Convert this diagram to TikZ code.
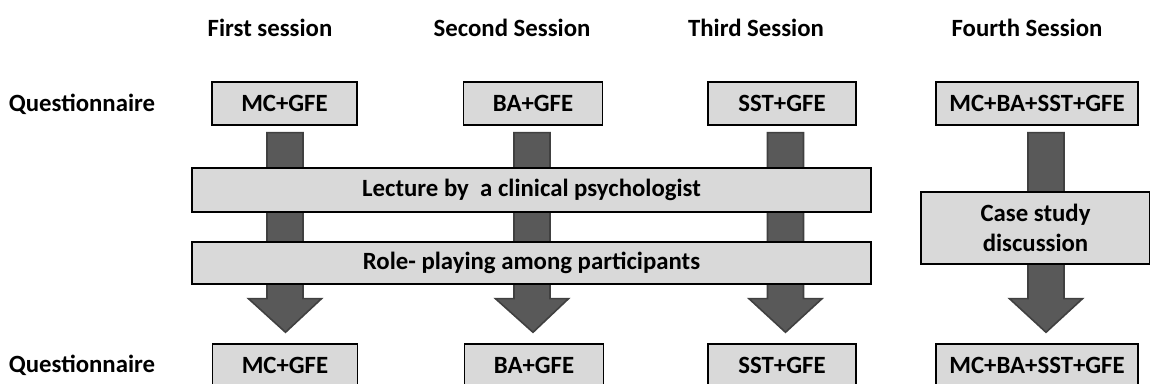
\documentclass[tikz,border=0pt]{standalone}
\usepackage{fontspec}
\setmainfont{Carlito}
\usetikzlibrary{calc}
\definecolor{boxgray}{HTML}{D9D9D9}
\definecolor{arrowgray}{HTML}{595959}
\definecolor{arrowedge}{HTML}{404040}
\begin{document}
\begin{tikzpicture}[
        x=0.5pt, y=-0.5pt,
        % Styles
        label/.style={font=\bfseries\fontsize{12.4}{15}\selectfont, inner sep=0pt},
        qbox/.style={rectangle, draw=black, line width=0.7pt, fill=boxgray, minimum height=21.5pt, inner sep=0pt, font=\bfseries\fontsize{12.4}{15}\selectfont},
        bar/.style={rectangle, draw=black, line width=0.7pt, fill=boxgray, inner sep=0pt, align=center, font=\bfseries\fontsize{12.4}{15}\selectfont},
        blockarrow/.style={draw=arrowedge, fill=arrowgray, line width=0.8pt, line join=miter}
    ]
        \useasboundingbox (0,0) rectangle (1150,384);

        % Session headers
        \node (h1) [label] at (270,28) {First session};
        \node (h2) [label] at (512,28) {Second Session};
        \node (h3) [label] at (756,28) {Third Session};
        \node (h4) [label] at (1027,28) {Fourth Session};

        % Row labels
        \node (qtop) [label] at (82,104) {Questionnaire};
        \node (qbot) [label] at (82,365) {Questionnaire};

        % Questionnaire boxes (before and after)
        \node (q1top) [qbox, minimum width=72.5pt] at (284.5,103.5) {MC+GFE};
        \node (q2top) [qbox, minimum width=69.5pt] at (533,103.5) {BA+GFE};
        \node (q3top) [qbox, minimum width=74pt] at (782,103.5) {SST+GFE};
        \node (q4top) [qbox, minimum width=101pt] at (1037,103.5) {MC+BA+SST+GFE};
        \node (q1bot) [qbox, minimum width=72.5pt] at (285,365.5) {MC+GFE};
        \node (q2bot) [qbox, minimum width=69.5pt] at (534,365.5) {BA+GFE};
        \node (q3bot) [qbox, minimum width=74pt] at (782,365.5) {SST+GFE};
        \node (q4bot) [qbox, minimum width=101pt] at (1037,365.5) {MC+BA+SST+GFE};

        % Block arrows from top box to bottom box
        \foreach \n/\dx in {1/0.5,2/-1,3/3.5,4/9}{
            \draw[blockarrow] ($(q\n top.south)+(\dx-18,7)$) -- ++(36,0) -- ++(0,166)
                -- ++(18.5,0) -- ($(q\n bot.north)+(\dx,-11)$) -- ($(q\n top.south)+(\dx-36.5,173)$)
                -- ++(18.5,0) -- cycle;
        }

        % Activities (drawn over the arrows)
        \node (lecture) [bar, minimum width=339.5pt, minimum height=22pt] at (531.5,190) {Lecture by\ \ a clinical psychologist};
        \node (role) [bar, minimum width=339.5pt, minimum height=21pt] at (531.5,263) {Role- playing among participants};
        \node (case) [bar, minimum width=114.5pt, minimum height=36pt] at (1035.5,228) {Case study\\discussion};

    \end{tikzpicture}
\end{document}
